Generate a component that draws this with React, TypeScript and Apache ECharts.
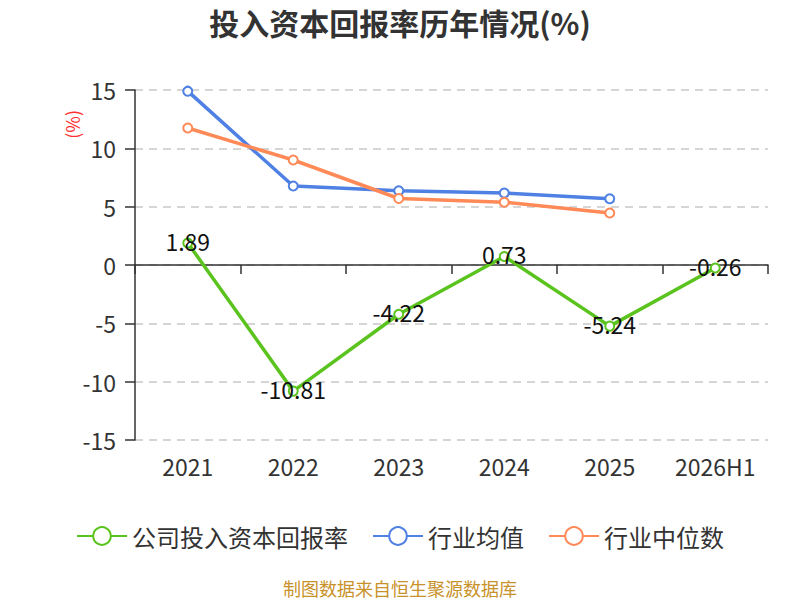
import React, { useEffect, useRef } from "react";
import * as echarts from "echarts";

const categories = ["2021", "2022", "2023", "2024", "2025", "2026H1"];
const companyRoic = [1.89, -10.81, -4.22, 0.73, -5.24, -0.26];
const industryAvg = [14.9, 6.77, 6.36, 6.17, 5.68, null];
const industryMedian = [11.74, 9.0, 5.7, 5.38, 4.46, null];
const yTicks = { min: -15, max: 15, interval: 5 };

const GREEN = "#5ac31e";
const BLUE = "#4f80e3";
const ORANGE = "#ff8a58";
const FONT = "'Noto Sans CJK SC', 'Noto Sans', sans-serif";

const App = () => {
  const chartRef = useRef<HTMLDivElement>(null);

  useEffect(() => {
    if (!chartRef.current) return;
    const chart = echarts.init(chartRef.current, null, { renderer: "svg" });

    const lineSeries = (name: string, data: (number | null)[], color: string) => ({
      name,
      type: "line",
      data,
      xAxisIndex: 0,
      symbol: "emptyCircle",
      symbolSize: 9,
      lineStyle: { color, width: 3.5 },
      itemStyle: { color, borderWidth: 2 },
    });

    chart.setOption({
      animation: false,
      textStyle: { fontFamily: FONT },
      title: {
        text: "投入资本回报率历年情况(%)",
        left: "center",
        top: 2,
        textStyle: { fontSize: 30, fontWeight: "bold", color: "#333", fontFamily: FONT },
      },
      legend: {
        top: 519,
        left: "center",
        itemWidth: 50,
        itemHeight: 22,
        itemGap: 24,
        textStyle: { fontSize: 24, color: "#333", fontFamily: FONT },
        data: ["公司投入资本回报率", "行业均值", "行业中位数"],
      },
      grid: { left: 135, right: 32, top: 90, bottom: 160 },
      xAxis: [
        {
          type: "category",
          data: categories,
          axisLine: { onZero: true, lineStyle: { color: "#333", width: 1.5 } },
          axisTick: { show: true, length: 9, lineStyle: { color: "#333", width: 1.5 } },
          axisLabel: { show: false },
        },
        {
          type: "category",
          data: categories,
          position: "bottom",
          axisLine: { show: false },
          axisTick: { show: false },
          axisLabel: { fontSize: 23, color: "#333", margin: 14, fontFamily: FONT },
        },
      ],
      yAxis: {
        type: "value",
        min: yTicks.min,
        max: yTicks.max,
        interval: yTicks.interval,
        axisLine: { show: true, lineStyle: { color: "#333", width: 1.5 } },
        axisTick: { show: true, length: 10, lineStyle: { color: "#333", width: 1.5 } },
        axisLabel: { fontSize: 23, color: "#333", margin: 19, fontFamily: FONT },
        splitLine: { lineStyle: { type: [8, 6], color: "#c8c8c8", width: 1.5 } },
      },
      graphic: [
        {
          type: "text",
          left: 63,
          top: 110,
          rotation: Math.PI / 2,
          style: { text: "(%)", fill: "#ff3030", fontSize: 18, fontFamily: FONT },
        },
        {
          type: "text",
          left: "center",
          top: 579,
          style: { text: "制图数据来自恒生聚源数据库", fill: "#c8922a", fontSize: 18, fontFamily: FONT },
        },
      ],
      series: [
        {
          ...lineSeries("公司投入资本回报率", companyRoic, GREEN),
          label: {
            show: true,
            position: "inside",
            offset: [0, -2],
            fontSize: 23,
            color: "#111",
            fontFamily: FONT,
          },
          z: 3,
        },
        lineSeries("行业均值", industryAvg, BLUE),
        lineSeries("行业中位数", industryMedian, ORANGE),
      ],
    });

    return () => chart.dispose();
  }, []);

  return (
    <div
      ref={chartRef}
      style={{ position: "absolute", left: 0, top: 0, width: 800, height: 600 }}
    />
  );
};

export default App;
